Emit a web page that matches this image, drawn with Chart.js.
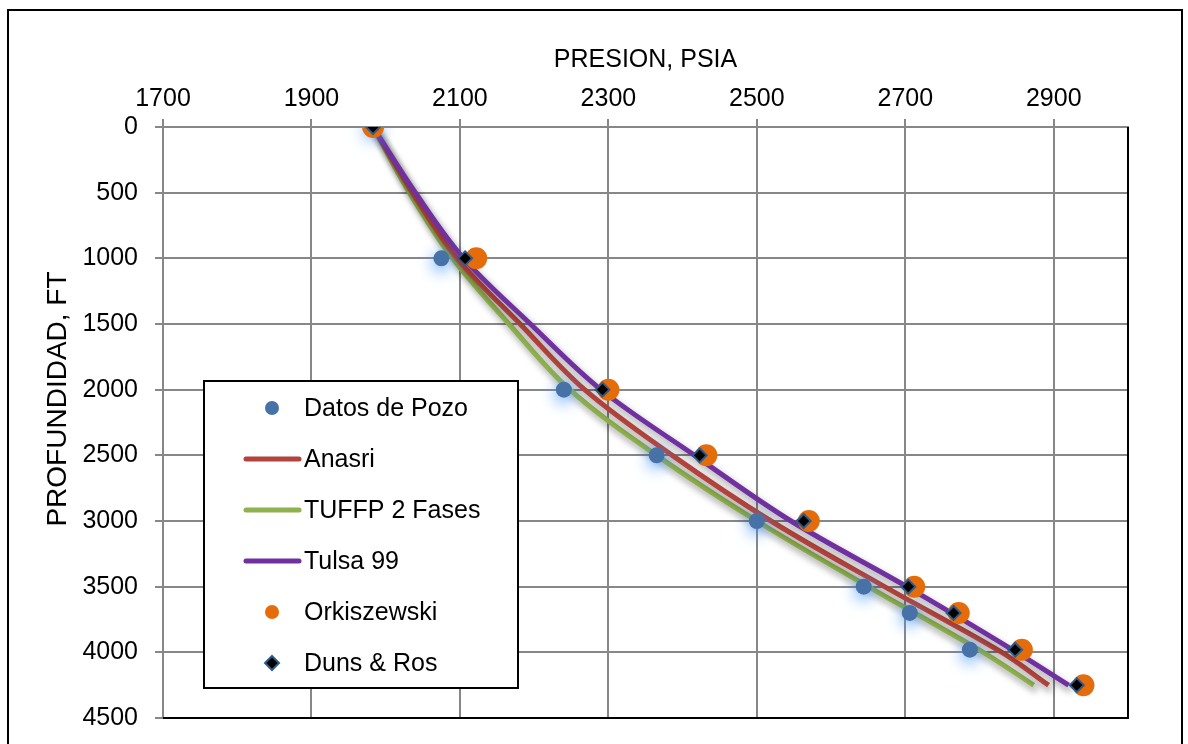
<!DOCTYPE html>
<html>
<head>
<meta charset="utf-8">
<script src="https://cdn.jsdelivr.net/npm/chart.js@4"></script>
<style>
  body { margin: 0; background: #fff; }
  canvas { display: block; }
</style>
</head>
<body>
<canvas id="chart" width="1188" height="744"></canvas>
<script>
// axis ticks
const xTicks = [1700, 1900, 2100, 2300, 2500, 2700, 2900];
const yTicks = [0, 500, 1000, 1500, 2000, 2500, 3000, 3500, 4000, 4500];

// measured well data
const pozoDepth = [0, 1000, 2000, 2500, 3000, 3500, 3700, 3980];
const pozoPres = [1983, 2075, 2240, 2365, 2500, 2644, 2706, 2787];

// correlation curves
const curveDepth = [0, 500, 1000, 1500, 2000, 2500, 3000, 3500, 4000, 4250];
const anasriPres = [1983, 2036, 2096, 2181, 2268, 2386, 2519, 2672, 2830, 2893];
const tuffpPres = [1983, 2032, 2090, 2166, 2248, 2365, 2500, 2650, 2805, 2873];
const tulsaPres = [1983, 2040, 2105, 2195, 2290, 2416, 2546, 2702, 2850, 2920];

// point correlations
const corrDepth = [0, 1000, 2000, 2500, 3000, 3500, 3700, 3980, 4250];
const orkiPres = [1983, 2122, 2300, 2432, 2570, 2712, 2772, 2857, 2940];
const dunsPres = [1983, 2107, 2292, 2423, 2563, 2704, 2765, 2848, 2931];

const pts = (xs, ys) => xs.map((x, i) => ({ x: x, y: ys[i] }));

const FONT = "'Liberation Sans', Arial, sans-serif";

const datasets = [
  { label: 'Datos de Pozo', data: pts(pozoPres, pozoDepth), showLine: false,
    pointRadius: 8, pointBackgroundColor: '#4672A8', pointBorderWidth: 0, glow: true, order: 2 },
  { label: 'Anasri', data: pts(anasriPres, curveDepth), showLine: true, borderColor: '#B3433D',
    borderWidth: 5, tension: 0.35, pointRadius: 0, order: 4 },
  { label: 'TUFFP 2 Fases', data: pts(tuffpPres, curveDepth), showLine: true, borderColor: '#8FB24E',
    borderWidth: 5, tension: 0.35, pointRadius: 0, order: 5 },
  { label: 'Tulsa 99', data: pts(tulsaPres, curveDepth), showLine: true, borderColor: '#7030A0',
    borderWidth: 5, tension: 0.35, pointRadius: 0, order: 3 },
  { label: 'Orkiszewski', data: pts(orkiPres, corrDepth), showLine: false,
    pointRadius: 11, pointBackgroundColor: '#E46C0A', pointBorderWidth: 0, order: 1 },
  { label: 'Duns & Ros', data: pts(dunsPres, corrDepth), showLine: false, pointStyle: 'rectRot',
    pointRadius: 7, pointBackgroundColor: '#000000', pointBorderColor: '#2E5C8A', pointBorderWidth: 2, order: 0 }
];

// shadows on the curves, glow on the well data
const effects = {
  id: 'effects',
  beforeDatasetDraw(chart, args) {
    const ds = chart.data.datasets[args.index];
    const ctx = chart.ctx;
    ctx.save();
    if (ds.showLine) {
      ctx.shadowColor = 'rgba(0,0,0,0.4)';
      ctx.shadowBlur = 7;
      ctx.shadowOffsetX = 3;
      ctx.shadowOffsetY = 5;
    } else if (ds.glow) {
      ctx.shadowColor = 'rgba(70,150,250,1)';
      ctx.shadowBlur = 16;
      ctx.shadowOffsetX = 0;
      ctx.shadowOffsetY = 4;
    }
  },
  afterDatasetDraw(chart) {
    chart.ctx.restore();
  }
};

// frame, titles and the legend box
const frame = {
  id: 'frame',
  afterDraw(chart) {
    const ctx = chart.ctx;
    const a = chart.chartArea;
    ctx.save();
    ctx.strokeStyle = '#000';
    ctx.lineWidth = 2;
    ctx.beginPath();
    ctx.moveTo(a.right, a.top);
    ctx.lineTo(a.right, a.bottom);
    ctx.lineTo(a.left, a.bottom);
    ctx.stroke();
    ctx.strokeRect(8, 10, 1174, 760);

    ctx.fillStyle = '#000';
    ctx.font = '25px ' + FONT;
    ctx.textAlign = 'center';
    ctx.textBaseline = 'middle';
    ctx.fillText('PRESION, PSIA', (a.left + a.right) / 2, 60);
    ctx.translate(58, 399);
    ctx.rotate(-Math.PI / 2);
    ctx.font = '28px ' + FONT;
    ctx.fillText('PROFUNDIDAD, FT', 0, 0);
    ctx.restore();

    // legend
    ctx.save();
    const lx = 204, ly = 381, lw = 314, lh = 307;
    ctx.fillStyle = '#fff';
    ctx.fillRect(lx, ly, lw, lh);
    ctx.strokeStyle = '#000';
    ctx.lineWidth = 2;
    ctx.strokeRect(lx, ly, lw, lh);
    ctx.font = '25px ' + FONT;
    ctx.textAlign = 'left';
    ctx.textBaseline = 'middle';
    chart.data.datasets.forEach((ds, i) => {
      const cy = ly + 27 + i * 51;
      if (ds.showLine) {
        ctx.strokeStyle = ds.borderColor;
        ctx.lineWidth = 5;
        ctx.lineCap = 'round';
        ctx.beginPath();
        ctx.moveTo(246, cy);
        ctx.lineTo(299, cy);
        ctx.stroke();
      } else if (ds.pointStyle === 'rectRot') {
        ctx.fillStyle = ds.pointBackgroundColor;
        ctx.strokeStyle = ds.pointBorderColor;
        ctx.lineWidth = 2;
        ctx.beginPath();
        ctx.moveTo(272, cy - 7);
        ctx.lineTo(279, cy);
        ctx.lineTo(272, cy + 7);
        ctx.lineTo(265, cy);
        ctx.closePath();
        ctx.fill();
        ctx.stroke();
      } else {
        ctx.fillStyle = ds.pointBackgroundColor;
        ctx.beginPath();
        ctx.arc(272, cy, 7, 0, Math.PI * 2);
        ctx.fill();
      }
      ctx.fillStyle = '#000';
      ctx.fillText(ds.label, 304, cy + 1);
    });
    ctx.restore();
  }
};

new Chart(document.getElementById('chart'), {
  type: 'scatter',
  data: { datasets: datasets },
  options: {
    responsive: false,
    animation: false,
    layout: { padding: { left: 0, top: 0, right: 60, bottom: 26 } },
    plugins: { legend: { display: false }, tooltip: { enabled: false } },
    scales: {
      x: {
        type: 'linear',
        position: 'top',
        min: 1700,
        max: 3000,
        afterBuildTicks: s => { s.ticks = xTicks.map(v => ({ value: v })); },
        afterFit: s => { s.height = 127; s.paddingLeft = 0; s.paddingRight = 0; },
        grid: { color: '#878787', lineWidth: 2, tickLength: 8 },
        border: { color: '#878787', width: 2 },
        ticks: { color: '#000', font: { family: FONT, size: 25 }, padding: 5, maxRotation: 0,
                 callback: v => String(v) }
      },
      y: {
        type: 'linear',
        reverse: true,
        min: 0,
        max: 4500,
        afterBuildTicks: s => { s.ticks = yTicks.map(v => ({ value: v })); },
        afterFit: s => { s.width = 163; s.paddingTop = 0; s.paddingBottom = 0; },
        grid: { color: '#878787', lineWidth: 2, tickLength: 8 },
        border: { color: '#878787', width: 2 },
        ticks: { color: '#000', font: { family: FONT, size: 25 }, padding: 17,
                 callback: v => String(v) }
      }
    }
  },
  plugins: [effects, frame]
});
</script>
</body>
</html>
